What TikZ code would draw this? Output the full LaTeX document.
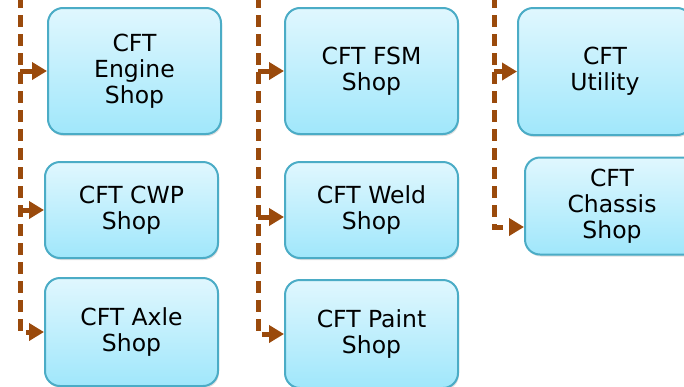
\documentclass[tikz,border=0pt]{standalone}
\usepackage{fontspec}
\setmainfont{DejaVu Sans}
\usetikzlibrary{arrows.meta,shadows,calc}

\definecolor{shopTop}{HTML}{E0F7FE}
\definecolor{shopBot}{HTML}{A0E7FB}
\definecolor{shopEdge}{HTML}{4BACC6}
\definecolor{flowBrown}{HTML}{9A4A0C}

\tikzset{
  shop/.style={draw=shopEdge, line width=2pt, rounded corners=15pt,
    top color=shopTop, bottom color=shopBot, minimum width=173pt,
    align=center, inner sep=0pt, font=\fontsize{23.5}{26}\selectfont,
    drop shadow={opacity=0.25, shadow xshift=1pt, shadow yshift=-2pt}},
  trunk/.style={flowBrown, line width=5pt, dash pattern=on 12pt off 7pt},
  feed/.style={trunk, -{Triangle[length=15pt,width=17pt]}}
}

\begin{document}
\begin{tikzpicture}[x=1pt, y=1pt]
  \useasboundingbox (0,0) rectangle (684,-386);

  % first column
  \node[shop, minimum height=126pt] (engine) at (134.5,-71) {CFT\\Engine\\Shop};
  \node[shop, minimum height=96pt]  (cwp)    at (131.5,-210) {CFT CWP\\Shop};
  \node[shop, minimum height=108pt] (axle)   at (131.5,-332) {CFT Axle\\Shop};

  % second column
  \node[shop, minimum height=126pt] (fsm)    at (371.5,-71) {CFT FSM\\Shop};
  \node[shop, minimum height=96pt]  (weld)   at (371.5,-210) {CFT Weld\\Shop};
  \node[shop, minimum height=108pt] (paint)  at (371.5,-334) {CFT Paint\\Shop};

  % third column
  \node[shop, minimum width=174pt, minimum height=127pt] (utility) at (605,-71.5) {CFT\\Utility};
  \node[shop, minimum width=174pt, minimum height=97pt]  (chassis) at (612,-206) {CFT\\Chassis\\Shop};

  % trunks
  \coordinate (lineA) at (20,4);
  \coordinate (lineB) at (258,4);
  \coordinate (lineC) at (494,4);
  \coordinate (weldIn) at ($(weld.west)+(0,-7)$);
  \coordinate (chassisIn) at ($(chassis.west)+(0,-21)$);

  \draw[feed] (lineA) |- (axle.west);
  \draw[feed] (lineB) |- (paint.west);
  \draw[feed] (lineC) |- (chassisIn);

  % branches
  \draw[feed] (lineA |- engine.west) -- (engine.west);
  \draw[feed] (lineA |- cwp.west) -- (cwp.west);
  \draw[feed] (lineB |- fsm.west) -- (fsm.west);
  \draw[feed] (lineB |- weldIn) -- (weldIn);
  \draw[feed] (lineC |- utility.west) -- (utility.west);
\end{tikzpicture}
\end{document}
